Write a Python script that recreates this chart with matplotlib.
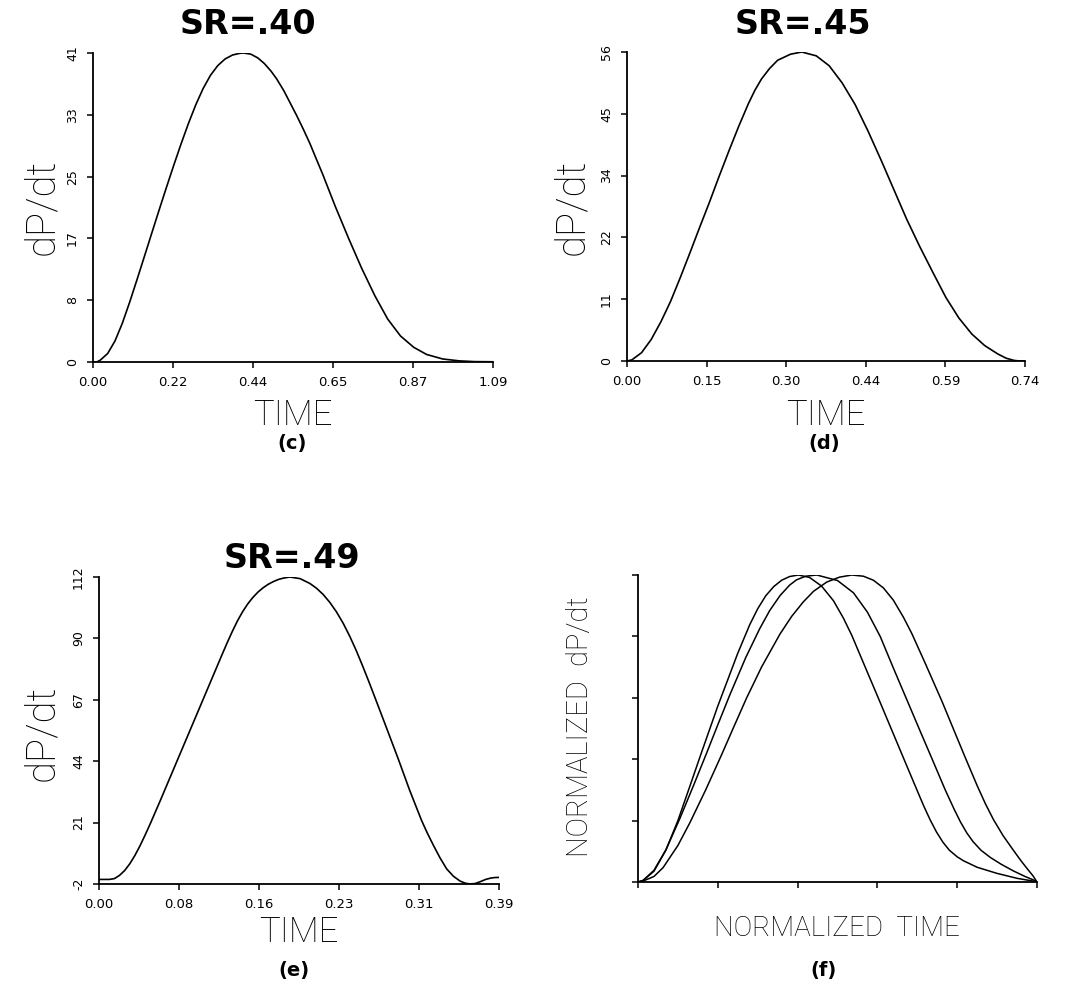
"""
Four dP/dt panels: (c) SR=.40, (d) SR=.45, (e) SR=.49, (f) normalized overlay
"""
import numpy as np
import matplotlib as mpl
import matplotlib.pyplot as plt

mpl.rcParams['axes.formatter.useoffset'] = False

W, H = 1070, 996

# panel (c)  SR=.40
time_c = [0.0, 0.010, 0.020, 0.040, 0.060, 0.080, 0.100, 0.120, 0.140, 0.160,
          0.180, 0.200, 0.220, 0.240, 0.260, 0.280, 0.300, 0.320, 0.340, 0.360,
          0.380, 0.400, 0.410, 0.430, 0.449, 0.467, 0.485, 0.500, 0.520, 0.537,
          0.555, 0.573, 0.591, 0.608, 0.626, 0.661, 0.697, 0.732, 0.768, 0.803,
          0.838, 0.874, 0.909, 0.953, 0.998, 1.040, 1.09]
dpdt_c = [0.0, 0.0, 0.25, 1.13, 2.8, 5.15, 7.95, 10.94, 14.0, 17.08,
          20.14, 23.15, 26.1, 28.94, 31.64, 34.12, 36.28, 38.03, 39.33, 40.21,
          40.73, 40.96, 41.0, 40.85, 40.35, 39.6, 38.6, 37.6, 36.0, 34.4,
          32.7, 30.9, 29.0, 27.0, 24.9, 20.55, 16.35, 12.45, 8.8, 5.7,
          3.45, 1.95, 1.0, 0.4, 0.15, 0.05, 0.03]
xt_c = ["0.00", "0.22", "0.44", "0.65", "0.87", "1.09"]
yt_c = ["0", "8", "17", "25", "33", "41"]

# panel (d)  SR=.45
time_d = [0.0, 0.009, 0.027, 0.045, 0.063, 0.081, 0.099, 0.117, 0.135, 0.153,
          0.171, 0.190, 0.208, 0.226, 0.238, 0.250, 0.265, 0.280, 0.304, 0.325,
          0.352, 0.376, 0.400, 0.424, 0.448, 0.472, 0.496, 0.520, 0.544, 0.569,
          0.593, 0.617, 0.641, 0.665, 0.689, 0.705, 0.720, 0.730, 0.74]
dpdt_d = [0.0, 0.2, 1.5, 3.9, 7.1, 10.8, 15.1, 19.6, 24.2, 28.7,
          33.4, 38.2, 42.6, 46.7, 49.1, 51.1, 53.0, 54.5, 55.6, 56.0,
          55.3, 53.5, 50.4, 46.5, 41.7, 36.5, 31.1, 25.7, 20.8, 16.0,
          11.5, 7.8, 4.9, 2.8, 1.3, 0.5, 0.1, 0.0, 0.0]
xt_d = ["0.00", "0.15", "0.30", "0.44", "0.59", "0.74"]
yt_d = ["0", "11", "22", "34", "45", "56"]

# panel (e)  SR=.49
time_e = [0.0, 0.010, 0.015, 0.020, 0.025, 0.030, 0.035, 0.040, 0.045, 0.050,
          0.055, 0.060, 0.065, 0.070, 0.075, 0.080, 0.090, 0.100, 0.110, 0.120,
          0.125, 0.130, 0.135, 0.140, 0.145, 0.150, 0.155, 0.160, 0.165, 0.170,
          0.175, 0.180, 0.186, 0.196, 0.2056, 0.212, 0.2186, 0.2251, 0.2316, 0.2381,
          0.2446, 0.2508, 0.257, 0.263, 0.269, 0.2747, 0.2804, 0.292, 0.303, 0.3145,
          0.320, 0.326, 0.3325, 0.339, 0.3455, 0.352, 0.357, 0.362, 0.367, 0.372,
          0.377, 0.382, 0.386, 0.390]
dpdt_e = [-0.3, -0.3, 0.0, 1.2, 3.0, 5.5, 8.6, 12.2, 16.2, 20.4,
          24.8, 29.2, 33.7, 38.2, 42.7, 47.2, 56.2, 65.2, 74.2, 83.2,
          87.6, 91.8, 95.7, 99.1, 102.0, 104.4, 106.4, 108.0, 109.3, 110.3,
          111.1, 111.6, 112.0, 111.4, 109.6, 107.85, 105.5, 102.55, 99.0, 94.8,
          89.9, 84.7, 79.0, 73.25, 67.3, 61.6, 55.9, 44.2, 32.7, 21.6,
          17.0, 12.4, 7.7, 3.6, 0.9, -0.9, -1.7, -2.0, -1.8, -1.1,
          -0.3, 0.2, 0.4, 0.45]
xt_e = ["0.00", "0.08", "0.16", "0.23", "0.31", "0.39"]
yt_e = ["-2", "21", "44", "67", "90", "112"]

# panel (f)  normalized overlay, three curves
nt_1 = [0.0, 0.0126, 0.040, 0.070, 0.100, 0.130, 0.160, 0.200, 0.250, 0.280,
        0.300, 0.320, 0.340, 0.360, 0.380, 0.402, 0.430, 0.460, 0.490, 0.515,
        0.536, 0.560, 0.603, 0.635, 0.665, 0.700, 0.716, 0.732, 0.748, 0.764,
        0.780, 0.800, 0.816, 0.850, 0.900, 0.950, 0.990, 1.0]
nd_1 = [0.0, 0.005, 0.035, 0.104, 0.20, 0.312, 0.425, 0.573, 0.745, 0.838,
        0.890, 0.932, 0.962, 0.983, 0.995, 1.0, 0.992, 0.964, 0.916, 0.859,
        0.803, 0.729, 0.597, 0.498, 0.405, 0.297, 0.248, 0.203, 0.163, 0.130,
        0.104, 0.082, 0.069, 0.048, 0.028, 0.012, 0.003, 0.0]
nt_2 = [0.0, 0.0126, 0.040, 0.070, 0.105, 0.140, 0.172, 0.200, 0.230, 0.270,
        0.305, 0.330, 0.356, 0.380, 0.397, 0.420, 0.448, 0.500, 0.540, 0.575,
        0.607, 0.640, 0.674, 0.706, 0.736, 0.770, 0.792, 0.808, 0.824, 0.840,
        0.860, 0.883, 0.910, 0.941, 0.970, 0.996, 1.0]
nd_2 = [0.0, 0.005, 0.038, 0.105, 0.207, 0.317, 0.420, 0.512, 0.609, 0.731,
        0.825, 0.884, 0.933, 0.967, 0.984, 0.996, 1.0, 0.982, 0.942, 0.879,
        0.800, 0.697, 0.593, 0.495, 0.404, 0.300, 0.238, 0.196, 0.160, 0.131,
        0.103, 0.080, 0.058, 0.036, 0.018, 0.004, 0.0]
nt_3 = [0.0, 0.0126, 0.040, 0.063, 0.100, 0.130, 0.170, 0.209, 0.240, 0.272,
        0.310, 0.356, 0.385, 0.414, 0.440, 0.473, 0.505, 0.536, 0.565, 0.590,
        0.615, 0.640, 0.665, 0.686, 0.720, 0.762, 0.790, 0.820, 0.850, 0.871,
        0.891, 0.915, 0.941, 0.960, 0.975, 0.990, 1.0]
nd_3 = [0.0, 0.003, 0.018, 0.047, 0.119, 0.193, 0.301, 0.413, 0.505, 0.599,
        0.701, 0.808, 0.865, 0.912, 0.947, 0.977, 0.993, 1.0, 0.996, 0.983,
        0.958, 0.918, 0.863, 0.810, 0.712, 0.588, 0.500, 0.406, 0.314, 0.254,
        0.203, 0.151, 0.103, 0.069, 0.044, 0.020, 0.0]

LIGHT = dict(family=['Roboto', 'Lato', 'DejaVu Sans'], fontweight='light', color='black')
BOLD = dict(family=['DejaVu Sans'], fontweight='bold', color='black')


def px(fig, x, y, s, **kw):
    # place text using pixel coordinates of the reference picture
    fig.text(x / W, 1 - y / H, s, ha='center', va='center', **kw)


def frame(ax, xmax, ymin, ymax, xlabels=None, ylabels=None):
    ax.set_xlim(0, xmax)
    ax.set_ylim(ymin, ymax)
    for side in ('top', 'right'):
        ax.spines[side].set_visible(False)
    for side in ('left', 'bottom'):
        ax.spines[side].set_linewidth(1.3)
    ax.set_xticks(np.linspace(0, xmax, 6))
    ax.set_yticks(np.linspace(ymin, ymax, 6))
    ax.tick_params(direction='out', length=4, width=1.1, pad=6)
    if xlabels is None:
        ax.set_xticklabels([])
    else:
        ax.set_xticklabels(xlabels, fontsize=9.5, family='DejaVu Sans')
    if ylabels is None:
        ax.set_yticklabels([])
    else:
        ax.set_yticklabels(ylabels, fontsize=9, rotation=90, va='center',
                           family='DejaVu Sans')


fig = plt.figure(figsize=(W / 100, H / 100), dpi=100)

# (c)
ax = fig.add_axes([93 / W, 1 - 362 / H, 400 / W, 309 / H])
ax.plot(time_c, dpdt_c, color='black', lw=1.2)
frame(ax, 1.09, 0, 41, xt_c, yt_c)
px(fig, 248, 25, "SR=.40", fontsize=24, **BOLD)
px(fig, 42, 207, "dP/dt", fontsize=29, rotation=90, **LIGHT)
px(fig, 293, 415, "TIME", fontsize=25, **LIGHT)
px(fig, 292, 443, "(c)", fontsize=14, **BOLD)

# (d)
ax = fig.add_axes([627 / W, 1 - 361 / H, 398 / W, 309 / H])
ax.plot(time_d, dpdt_d, color='black', lw=1.2)
frame(ax, 0.74, 0, 56, xt_d, yt_d)
px(fig, 803, 25, "SR=.45", fontsize=24, **BOLD)
px(fig, 572, 207, "dP/dt", fontsize=29, rotation=90, **LIGHT)
px(fig, 826, 415, "TIME", fontsize=25, **LIGHT)
px(fig, 824, 443, "(d)", fontsize=14, **BOLD)

# (e)
ax = fig.add_axes([99 / W, 1 - 884 / H, 400 / W, 307 / H])
ax.plot(time_e, dpdt_e, color='black', lw=1.2)
frame(ax, 0.39, -2, 112, xt_e, yt_e)
px(fig, 292, 558, "SR=.49", fontsize=24, **BOLD)
px(fig, 42, 733, "dP/dt", fontsize=29, rotation=90, **LIGHT)
px(fig, 299, 932, "TIME", fontsize=25, **LIGHT)
px(fig, 294, 970, "(e)", fontsize=14, **BOLD)

# (f)
ax = fig.add_axes([638 / W, 1 - 882 / H, 399 / W, 307 / H])
for t, d in ((nt_1, nd_1), (nt_2, nd_2), (nt_3, nd_3)):
    ax.plot(t, d, color='black', lw=1.1)
frame(ax, 1.0, 0, 1.0)
px(fig, 580, 727, "NORMALIZED  dP/dt", fontsize=21, rotation=90, **LIGHT)
px(fig, 837, 928, "NORMALIZED  TIME", fontsize=20, **LIGHT)
px(fig, 824, 970, "(f)", fontsize=14, **BOLD)

fig.savefig("out.png", dpi=100)
